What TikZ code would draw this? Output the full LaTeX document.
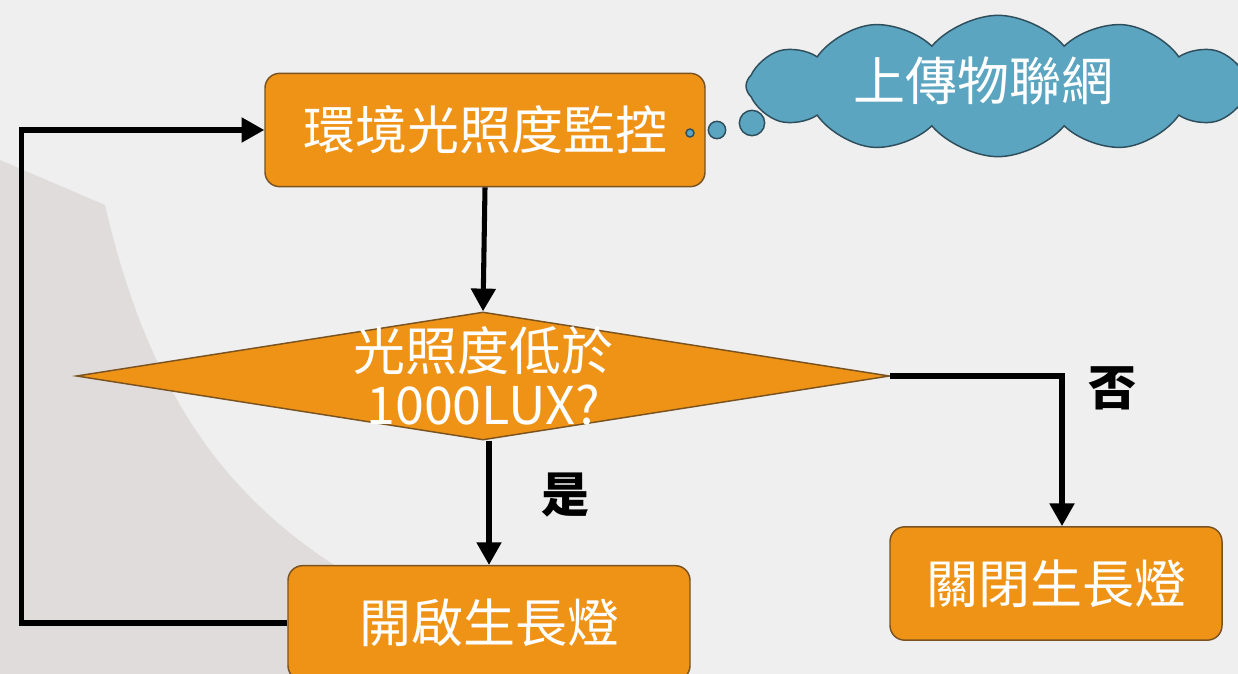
\documentclass[tikz,border=0pt]{standalone}
\usepackage{fontspec}
\setmainfont{Noto Sans CJK TC}
\usetikzlibrary{shapes.geometric,shapes.symbols,arrows.meta}
\definecolor{bgpaper}{HTML}{EFEFEF}
\definecolor{bgshade}{HTML}{E0DCDC}
\definecolor{boxorange}{HTML}{EF9316}
\definecolor{boxedge}{HTML}{7A5320}
\definecolor{cloudblue}{HTML}{5BA5C1}
\definecolor{cloudedge}{HTML}{2E4E5C}
\begin{document}
\begin{tikzpicture}[x=0.75pt,y=-0.75pt,
  bigtext/.style={font=\fontsize{39}{41}\selectfont},
  procbox/.style={draw=boxedge, line width=1.1pt, fill=boxorange,
    rounded corners=11pt, text=white, bigtext, inner sep=0pt},
  decbox/.style={shape=diamond, draw=boxedge, line width=1.1pt, fill=boxorange,
    inner sep=0pt},
  flow/.style={line width=3.8pt, -{Triangle[length=17pt,width=18pt]}},
  answer/.style={font=\fontsize{36}{40}\selectfont\bfseries, text=black},
  bubble/.style={circle, draw=cloudedge, line width=1.1pt, fill=cloudblue, inner sep=0pt},
]
% page and background
\useasboundingbox (0,0) rectangle (1238,674);
\fill[bgpaper] (0,0) rectangle (1238,674);
\fill[bgshade] (0,160) -- (105,205) .. controls (150,400) and (230,500) .. (345,572)
  -- (420,674) -- (0,674) -- cycle;

% process steps
\node[procbox, minimum width=330pt, minimum height=85pt] (mon) at (485,130) {環境光照度監控};
\node[procbox, minimum width=301.5pt, minimum height=86pt] (on) at (489,623) {開啟生長燈};
\node[procbox, minimum width=249pt, minimum height=85pt] (off) at (1056,583.5) {關閉生長燈};

% decision
\node[decbox, minimum width=610pt, minimum height=96pt,
  label={[text=white, bigtext, align=center, inner sep=0pt]center:光照度低於\\1000LUX?}]
  (dec) at (483,376) {};

% upload cloud with thought bubbles
\node[shape=cloud, cloud puffs=12, cloud puff arc=100, aspect=3.6,
  draw=cloudedge, line width=1.1pt, fill=cloudblue,
  minimum width=378pt, minimum height=106pt, inner sep=0pt] (iot) at (998,86) {};
\node[text=white, bigtext] (iottext) at (983,81) {上傳物聯網};
\node[bubble, minimum size=6pt] (b1) at (690,133) {};
\node[bubble, minimum size=13pt] (b2) at (717,130) {};
\node[bubble, minimum size=19pt] (b3) at (752,123) {};

% connectors
\draw[flow] (mon.south) -- (dec.north);
\draw[flow] (dec.south -| on.north) -- (on.north);
\draw[flow] (dec.east) -| ([xshift=4.5pt]off.north);
\draw[flow] (on.west) -- ++(-266,0) |- (mon.west);

% branch labels
\node[answer] (yes) at (565,495) {是};
\node[answer] (no) at (1112,388) {否};
\end{tikzpicture}
\end{document}
